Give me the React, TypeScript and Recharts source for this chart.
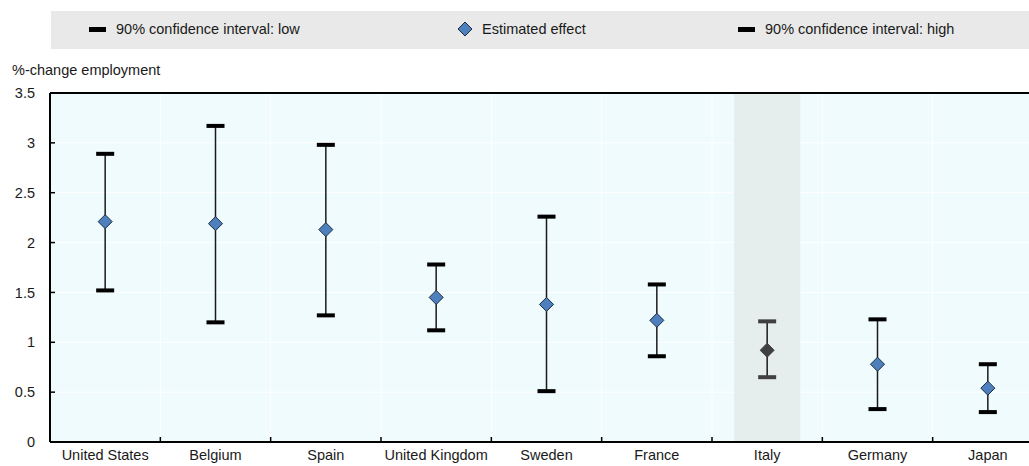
import {
    ScatterChart,
    Scatter,
    XAxis,
    YAxis,
    CartesianGrid,
    ErrorBar,
    ReferenceArea,
    ReferenceLine,
} from "recharts";

// Valeurs
const countries = [
    "United States",
    "Belgium",
    "Spain",
    "United Kingdom",
    "Sweden",
    "France",
    "Italy",
    "Germany",
    "Japan",
];
const estimate = [2.21, 2.19, 2.13, 1.45, 1.38, 1.22, 0.92, 0.78, 0.54];
const ciLow = [1.52, 1.2, 1.27, 1.12, 0.51, 0.86, 0.65, 0.33, 0.3];
const ciHigh = [2.89, 3.17, 2.98, 1.78, 2.26, 1.58, 1.21, 1.23, 0.78];
const yTicks = [0, 0.5, 1, 1.5, 2, 2.5, 3, 3.5];
const highlighted = "Italy";

const Y_MAX = 3.5;
const FONT = "'Liberation Sans', Arial, sans-serif";
const FONT_SIZE = 14.5;
const TEXT = "#1a1a1a";
const BLUE = "#4e80bd";
const DARK = "#404040";

const rows = countries.map((name, i) => ({
    name,
    pos: i + 0.5,
    est: estimate[i],
    low: ciLow[i],
    high: ciHigh[i],
    err: [estimate[i] - ciLow[i], ciHigh[i] - estimate[i]],
    hl: name === highlighted,
}));
const hlIndex = countries.indexOf(highlighted);

const Diamond = (props: any) => {
    const { cx, cy, payload } = props;
    const r = 7;
    return (
        <polygon
            points={`${cx},${cy - r} ${cx + r},${cy} ${cx},${cy + r} ${cx - r},${cy}`}
            fill={payload.hl ? DARK : BLUE}
            stroke={payload.hl ? DARK : "#1c2b40"}
            strokeWidth={1}
        />
    );
};

const Cap = (props: any) => {
    const { cx, cy, payload } = props;
    return <rect x={cx - 9} y={cy - 2} width={18} height={4} fill={payload.hl ? DARK : "#000"} />;
};

const CountryTick = (props: any) => {
    const { x, y, index, width, visibleTicksCount } = props;
    const half = width / visibleTicksCount / 2;
    return (
        <g>
            <line x1={x - half} x2={x - half} y1={y} y2={y - 5} stroke="#000" strokeWidth={1.5} />
            {index === visibleTicksCount - 1 && (
                <line x1={x + half} x2={x + half} y1={y} y2={y - 5} stroke="#000" strokeWidth={1.5} />
            )}
            <text x={x} y={y + 18} textAnchor="middle" fill={TEXT} fontSize={FONT_SIZE} fontFamily={FONT}>
                {countries[index]}
            </text>
        </g>
    );
};

const LegendDash = () => (
    <span style={{ display: "inline-block", width: 17, height: 5, background: "#000", marginRight: 10 }} />
);

export default function App() {
    return (
        <div
            style={{
                position: "fixed",
                left: 0,
                top: 0,
                width: 1029,
                height: 466,
                overflow: "hidden",
                background: "#fff",
                fontFamily: FONT,
                color: TEXT,
            }}
        >
            <div
                style={{
                    position: "absolute",
                    left: 51,
                    top: 11,
                    width: 978,
                    height: 38,
                    background: "#e9e9e9",
                    fontSize: FONT_SIZE,
                }}
            >
                <div style={{ position: "absolute", left: 38, top: 10, display: "flex", alignItems: "center" }}>
                    <LegendDash />
                    <span>90% confidence interval: low</span>
                </div>
                <div style={{ position: "absolute", left: 406, top: 10, display: "flex", alignItems: "center" }}>
                    <svg width={16} height={16} style={{ marginRight: 9 }}>
                        <polygon points="8,1 15,8 8,15 1,8" fill={BLUE} stroke="#1c2b40" strokeWidth={1} />
                    </svg>
                    <span>Estimated effect</span>
                </div>
                <div style={{ position: "absolute", left: 687, top: 10, display: "flex", alignItems: "center" }}>
                    <LegendDash />
                    <span>90% confidence interval: high</span>
                </div>
            </div>
            <div style={{ position: "absolute", left: 12, top: 62, fontSize: FONT_SIZE }}>%-change employment</div>
            <div style={{ position: "absolute", left: 0, top: 0 }}>
                <ScatterChart width={1060} height={466} margin={{ top: 93, right: 17, bottom: 0, left: 0 }}>
                    <CartesianGrid
                        fill="#effbfd"
                        stroke="#ffffff"
                        strokeWidth={1}
                        verticalCoordinatesGenerator={({ xAxis, offset }: any) =>
                            Array.from({ length: countries.length + 1 }, (_, i) =>
                                xAxis && typeof xAxis.scale === "function"
                                    ? xAxis.scale(i)
                                    : offset.left + (i * offset.width) / countries.length
                            )
                        }
                    />
                    <ReferenceArea
                        x1={hlIndex + 0.2}
                        x2={hlIndex + 0.8}
                        y1={0}
                        y2={Y_MAX}
                        fill="#e6eded"
                        fillOpacity={1}
                        stroke="none"
                    />
                    <XAxis
                        type="number"
                        dataKey="pos"
                        domain={[0, countries.length]}
                        ticks={rows.map((r) => r.pos)}
                        interval={0}
                        height={24}
                        tickSize={0}
                        tickMargin={0}
                        tickLine={false}
                        axisLine={{ stroke: "#000", strokeWidth: 2 }}
                        tick={<CountryTick />}
                        allowDataOverflow
                    />
                    <YAxis
                        type="number"
                        domain={[0, Y_MAX]}
                        ticks={yTicks}
                        width={50}
                        interval={0}
                        tickSize={-5}
                        tickMargin={20}
                        tickLine={{ stroke: "#000", strokeWidth: 1.5 }}
                        axisLine={{ stroke: "#000", strokeWidth: 2 }}
                        tick={{ fill: TEXT, fontSize: FONT_SIZE, fontFamily: FONT }}
                        allowDataOverflow
                    />
                    <ReferenceLine y={Y_MAX} stroke="#000" strokeWidth={2} />
                    <Scatter name="Estimated effect" data={rows} dataKey="est" shape={<Diamond />} isAnimationActive={false}>
                        <ErrorBar dataKey="err" direction="y" width={0} stroke="#1a1a1a" strokeWidth={1.5} isAnimationActive={false} />
                    </Scatter>
                    <Scatter name="90% confidence interval: low" data={rows} dataKey="low" shape={<Cap />} isAnimationActive={false} />
                    <Scatter name="90% confidence interval: high" data={rows} dataKey="high" shape={<Cap />} isAnimationActive={false} />
                </ScatterChart>
            </div>
        </div>
    );
}
